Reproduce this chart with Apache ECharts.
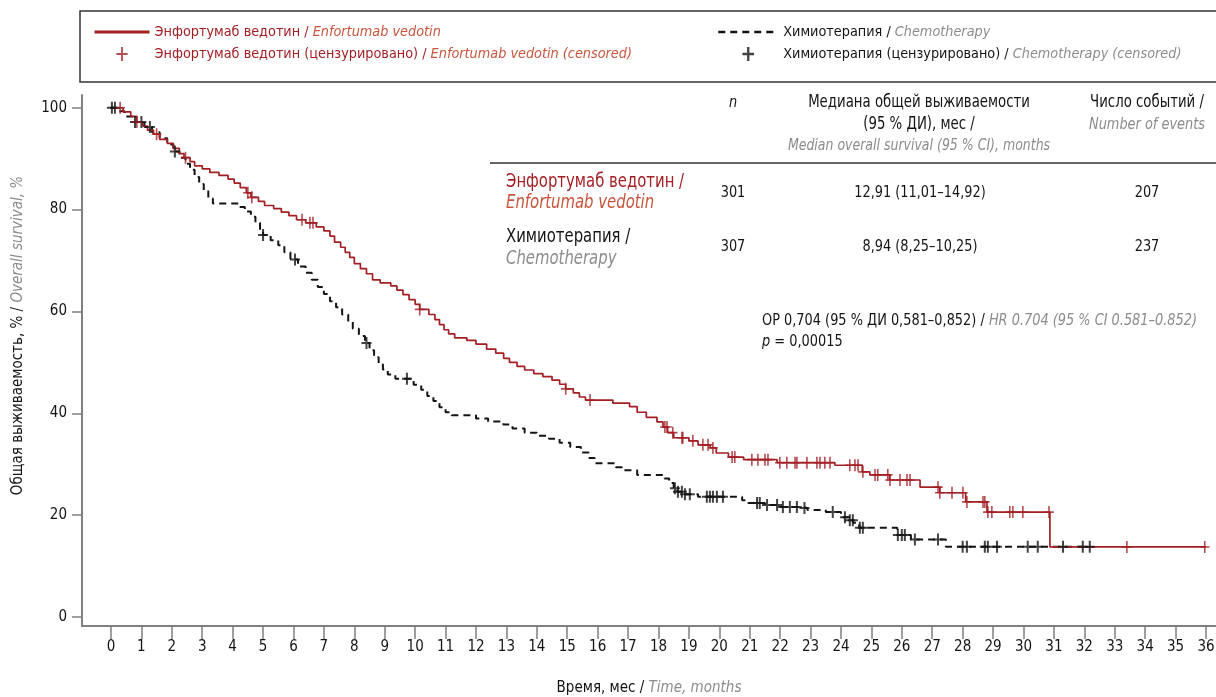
<!DOCTYPE html>
<html>
<head>
<meta charset="utf-8">
<script src="https://cdn.jsdelivr.net/npm/echarts@6/dist/echarts.min.js"></script>
<style>
  html, body { margin: 0; padding: 0; background: #fff; }
  #chart { width: 1216px; height: 697px; }
</style>
</head>
<body>
<div id="chart"></div>
<script>
// Kaplan–Meier overall survival: enfortumab vedotin vs chemotherapy

// Step points [month, survival %] — the value holds until the next time point
const evSteps = [
  [0, 100], [0.4, 99.2], [0.65, 98.3], [0.85, 97.2], [1.05, 96.4], [1.2, 95.6], [1.4, 94.8],
  [1.6, 93.8], [1.85, 93.0], [2.05, 92.0], [2.25, 91.0], [2.4, 90.2], [2.6, 89.4], [2.75, 88.6],
  [3.0, 88.0], [3.25, 87.3], [3.55, 86.7], [3.85, 86.0], [4.05, 85.2], [4.25, 84.3], [4.45, 83.3],
  [4.6, 82.4], [4.85, 81.6], [5.05, 80.8], [5.35, 80.2], [5.6, 79.5], [5.85, 78.8], [6.1, 78.0],
  [6.4, 77.4], [6.75, 76.6], [7.0, 75.8], [7.2, 74.8], [7.35, 73.6], [7.55, 72.6], [7.7, 71.6],
  [7.85, 70.6], [8.0, 69.4], [8.2, 68.4], [8.4, 67.4], [8.6, 66.2], [8.85, 65.6], [9.2, 65.0],
  [9.4, 64.2], [9.6, 63.3], [9.8, 62.3], [10.0, 61.4], [10.15, 60.4], [10.45, 59.4], [10.65, 58.4],
  [10.8, 57.4], [10.95, 56.4], [11.1, 55.6], [11.3, 54.8], [11.7, 54.3], [12.0, 53.6], [12.35, 52.6],
  [12.65, 51.8], [12.91, 50.8], [13.1, 50.0], [13.35, 49.2], [13.6, 48.5], [13.9, 47.8], [14.2, 47.2],
  [14.5, 46.5], [14.75, 45.7], [14.95, 44.8], [15.2, 44.0], [15.4, 43.2], [15.6, 42.6], [16.5, 42.0],
  [17.05, 41.3], [17.3, 40.2], [17.6, 39.2], [17.95, 38.3], [18.15, 37.3], [18.3, 36.2], [18.5, 35.2],
  [19.0, 34.6], [19.3, 33.8], [19.7, 33.2], [19.9, 32.2], [20.3, 31.4], [20.8, 30.9], [21.9, 30.3],
  [23.8, 29.8], [24.7, 28.5], [24.95, 27.9], [25.6, 26.9], [26.6, 25.5], [27.25, 24.4], [28.1, 22.6],
  [28.8, 20.6], [30.87, 13.75], [36.0, 13.75]
];

const chemoSteps = [
  [0, 100], [0.2, 99.3], [0.45, 98.3], [0.7, 97.2], [1.1, 96.2], [1.35, 95.2], [1.6, 94.0],
  [1.85, 92.8], [2.05, 91.4], [2.25, 90.2], [2.45, 89.0], [2.6, 87.8], [2.75, 86.4], [2.9, 85.0],
  [3.05, 83.6], [3.2, 82.2], [3.35, 81.2], [4.2, 80.5], [4.4, 79.6], [4.6, 78.6], [4.75, 77.4],
  [4.9, 76.0], [5.0, 75.0], [5.25, 74.0], [5.5, 73.0], [5.7, 71.6], [5.9, 70.2], [6.15, 68.8],
  [6.4, 67.6], [6.6, 66.2], [6.8, 64.8], [7.0, 63.4], [7.2, 62.0], [7.4, 60.8], [7.6, 59.4],
  [7.8, 58.0], [7.95, 56.6], [8.15, 55.2], [8.35, 53.8], [8.5, 52.4], [8.65, 51.0], [8.8, 49.8],
  [8.94, 48.6], [9.1, 47.6], [9.35, 46.8], [9.95, 45.6], [10.2, 44.6], [10.4, 43.4], [10.6, 42.4],
  [10.8, 41.2], [11.0, 40.2], [11.2, 39.6], [12.0, 39.0], [12.4, 38.4], [12.9, 37.8], [13.2, 37.0],
  [13.6, 36.2], [14.0, 35.6], [14.4, 35.0], [14.75, 34.2], [15.1, 33.4], [15.45, 32.3], [15.7, 31.2],
  [15.9, 30.2], [16.6, 29.4], [16.8, 28.8], [17.3, 27.9], [18.2, 27.2], [18.35, 26.3], [18.5, 25.3],
  [18.62, 24.6], [18.8, 24.1], [19.3, 23.6], [20.75, 22.9], [20.95, 22.4], [21.5, 22.0], [22.0, 21.6],
  [22.6, 21.4], [22.9, 21.0], [23.5, 20.6], [24.0, 19.6], [24.25, 19.0], [24.4, 18.5], [24.6, 17.5],
  [25.85, 16.1], [26.3, 15.2], [27.45, 13.8], [32.2, 13.8]
];

// Censoring times, months
const evCensorTimes = [
  0.3, 0.85, 1.5, 2.45, 4.5, 4.63, 6.28, 6.54, 6.64, 10.15, 14.95, 15.75,
  18.21, 18.28, 18.47, 18.77, 18.8, 19.13, 19.46, 19.63, 19.79, 20.42, 20.51,
  21.07, 21.27, 21.5, 21.6, 21.99, 22.22, 22.49, 22.55, 22.88, 23.21, 23.31, 23.47, 23.64,
  24.29, 24.46, 24.56, 24.72, 25.12, 25.21, 25.54, 25.61, 25.94, 26.17, 26.27,
  27.19, 27.25, 27.65, 28.01, 28.14, 28.67, 28.73, 28.83, 28.96, 29.55, 29.65, 29.98, 30.84,
  33.4, 35.96
];
const chemoCensorTimes = [
  0.03, 0.13, 0.79, 1.0, 1.28, 2.1, 5.0, 6.05, 8.4, 9.73,
  18.54, 18.64, 18.77, 18.87, 19.03, 19.59, 19.69, 19.79, 19.92, 20.12,
  21.24, 21.33, 21.57, 21.9, 22.09, 22.32, 22.55, 22.8, 23.73, 24.13,
  24.29, 24.39, 24.62, 24.72, 25.87, 26.0, 26.1, 26.43, 27.19,
  28.0, 28.14, 28.73, 28.83, 29.13, 30.14, 30.47, 31.3, 31.95, 32.18
];

// Axis ticks
const monthTicks = [0, 1, 2, 3, 4, 5, 6, 7, 8, 9, 10, 11, 12, 13, 14, 15, 16, 17, 18,
  19, 20, 21, 22, 23, 24, 25, 26, 27, 28, 29, 30, 31, 32, 33, 34, 35, 36];
const survivalTicks = [0, 20, 40, 60, 80, 100];

// Series names (Russian / English)
const EV = 'Энфортумаб ведотин / Enfortumab vedotin';
const EV_C = 'Энфортумаб ведотин (цензурировано) / Enfortumab vedotin (censored)';
const CH = 'Химиотерапия / Chemotherapy';
const CH_C = 'Химиотерапия (цензурировано) / Chemotherapy (censored)';

const FONT = "'Liberation Sans Narrow','DejaVu Sans Condensed','Roboto Condensed',Roboto,sans-serif";
const RED = '#a31f24';
const RED_LIGHT = '#c8553d';
const GREY = '#8c8c8c';
const INK = '#141414';
const AXIS = '#808080';
const NARROW = 0.87;   // horizontal squeeze for the condensed look of annotation text

// Survival value of a step curve at time t
function survivalAt(steps, t) {
  let v = steps[0][1];
  for (const [x, y] of steps) { if (x <= t) v = y; else break; }
  return v;
}

const PLUS_THIN = 'path://M4,0H5.6V5.2H9.6V6.8H5.6V12H4V6.8H0V5.2H4Z';
const PLUS_BOLD = 'path://M4,0H6V5H10V7H6V12H4V7H0V5H4Z';

const chart = echarts.init(document.getElementById('chart'), null, { renderer: 'canvas' });

function legendFormatter(name) {
  const parts = name.split(' / ');
  const red = name.indexOf('Энфортумаб') === 0;
  return red
    ? '{r|' + parts[0] + ' / }{ri|' + parts[1] + '}'
    : '{k|' + parts[0] + ' / }{ki|' + parts[1] + '}';
}
const LEG_FS = 14.3;
const legendRich = {
  r: { color: RED, fontSize: LEG_FS, fontFamily: FONT },
  ri: { color: RED_LIGHT, fontSize: LEG_FS, fontStyle: 'italic', fontFamily: FONT },
  k: { color: INK, fontSize: LEG_FS, fontFamily: FONT },
  ki: { color: GREY, fontSize: LEG_FS, fontStyle: 'italic', fontFamily: FONT }
};
const axisNameRich = {
  k: { color: INK, fontSize: 15, fontFamily: FONT },
  ki: { color: GREY, fontSize: 15, fontStyle: 'italic', fontFamily: FONT }
};

// Annotation text, squeezed horizontally around its anchor point
function txt(x, y, text, opts) {
  return {
    type: 'text', x: x, y: y, silent: true,
    scaleX: NARROW, originX: 0, originY: 0,
    style: Object.assign({
      x: 0, y: 0, text: text, fill: INK, fontSize: 16.5, fontFamily: FONT,
      align: 'center', verticalAlign: 'middle'
    }, opts || {})
  };
}

const option = {
  animation: false,
  backgroundColor: '#fff',
  grid: { left: 82, right: 0, top: 95, bottom: 71, containLabel: false, outerBoundsMode: 'none' },
  legend: [
    {
      data: [
        { name: EV, itemStyle: { opacity: 0 }, lineStyle: { width: 3 } },
        { name: EV_C }
      ],
      orient: 'vertical', left: 93, top: 25, padding: 0,
      itemWidth: 55, itemHeight: 14, itemGap: 8,
      formatter: legendFormatter, textStyle: { rich: legendRich }, selectedMode: false
    },
    {
      data: [
        { name: CH, itemStyle: { opacity: 0 }, lineStyle: { width: 2.5, type: [7, 5] } },
        { name: CH_C }
      ],
      orient: 'vertical', left: 717, top: 25, padding: 0,
      itemWidth: 60, itemHeight: 14, itemGap: 8,
      formatter: legendFormatter, textStyle: { rich: legendRich }, selectedMode: false
    }
  ],
  xAxis: {
    type: 'value', min: -0.953, max: 36.33,
    name: '{k|Время, мес / }{ki|Time, months}',
    nameLocation: 'middle', nameGap: 55,
    nameTextStyle: { rich: axisNameRich },
    axisLine: { show: true, onZero: false, lineStyle: { color: AXIS, width: 2 } },
    axisTick: { show: true, customValues: monthTicks, length: 13, lineStyle: { color: AXIS, width: 1.5 } },
    axisLabel: { customValues: monthTicks, margin: 14, fontSize: 15, color: INK, fontFamily: FONT },
    splitLine: { show: false }
  },
  yAxis: {
    type: 'value', min: -1.77, max: 102.5,
    name: '{k|Общая выживаемость, % / }{ki|Overall survival, %}',
    nameLocation: 'middle', nameGap: 56, nameRotate: 90,
    nameTextStyle: { rich: axisNameRich, padding: [0, 0, 0, 50] },
    axisLine: { show: true, onZero: false, lineStyle: { color: AXIS, width: 2 } },
    axisTick: { show: true, customValues: survivalTicks, length: 10, lineStyle: { color: AXIS, width: 1.5 } },
    axisLabel: { customValues: survivalTicks, margin: 15, fontSize: 15, color: INK, fontFamily: FONT },
    splitLine: { show: false }
  },
  series: [
    {
      name: CH, type: 'line', step: 'end', symbol: 'none', z: 2,
      data: chemoSteps,
      lineStyle: { color: INK, width: 2, type: [7, 5] },
      itemStyle: { color: INK }
    },
    {
      name: EV, type: 'line', step: 'end', symbol: 'none', z: 3,
      data: evSteps,
      lineStyle: { color: RED, width: 1.7 },
      itemStyle: { color: RED }
    },
    {
      name: CH_C, type: 'scatter', symbol: PLUS_BOLD, symbolSize: [10, 12], z: 4,
      data: chemoCensorTimes.map(t => [t, survivalAt(chemoSteps, t)]),
      itemStyle: { color: INK }
    },
    {
      name: EV_C, type: 'scatter', symbol: PLUS_THIN, symbolSize: [9.6, 12], z: 5,
      data: evCensorTimes.map(t => [t, survivalAt(evSteps, t)]),
      itemStyle: { color: RED }
    }
  ],
  graphic: [
    // legend frame
    { type: 'rect', silent: true, shape: { x: 80, y: 11, width: 1300, height: 71 },
      style: { fill: 'none', stroke: '#333', lineWidth: 1.5 } },
    // summary table header
    txt(733, 103, 'n', { fontStyle: 'italic' }),
    txt(919, 103, 'Медиана общей выживаемости', { fontSize: 17 }),
    txt(919, 125, '(95 % ДИ), мес /', { fontSize: 17 }),
    txt(919, 146, 'Median overall survival (95 % CI), months', { fill: GREY, fontStyle: 'italic', fontSize: 16 }),
    txt(1147, 103, 'Число событий /', { fontSize: 17 }),
    txt(1147, 125, 'Number of events', { fill: GREY, fontStyle: 'italic', fontSize: 16.5 }),
    { type: 'line', silent: true, shape: { x1: 490, y1: 163, x2: 1216, y2: 163 },
      style: { stroke: '#333', lineWidth: 1.5 } },
    // row: enfortumab vedotin
    txt(506, 182, 'Энфортумаб ведотин /', { fill: RED, fontSize: 19, align: 'left' }),
    txt(506, 203, 'Enfortumab vedotin', { fill: RED_LIGHT, fontSize: 19, align: 'left', fontStyle: 'italic' }),
    txt(733, 193, '301'),
    txt(920, 193, '12,91 (11,01–14,92)'),
    txt(1147, 193, '207'),
    // row: chemotherapy
    txt(506, 237, 'Химиотерапия /', { fontSize: 19, align: 'left' }),
    txt(506, 259, 'Chemotherapy', { fill: GREY, fontSize: 19, align: 'left', fontStyle: 'italic' }),
    txt(733, 247, '307'),
    txt(920, 247, '8,94 (8,25–10,25)'),
    txt(1147, 247, '237'),
    // hazard ratio
    txt(762, 321, '{k|ОР 0,704 (95 % ДИ 0,581–0,852) / }{ki|HR 0.704 (95 % CI 0.581–0.852)}', {
      align: 'left', rich: {
        k: { fill: INK, fontSize: 16.5, fontFamily: FONT },
        ki: { fill: GREY, fontSize: 16.5, fontStyle: 'italic', fontFamily: FONT }
      }
    }),
    txt(762, 342, '{pi|p}{k| = 0,00015}', {
      align: 'left', rich: {
        pi: { fill: INK, fontSize: 16.5, fontStyle: 'italic', fontFamily: FONT },
        k: { fill: INK, fontSize: 16.5, fontFamily: FONT }
      }
    })
  ]
};

chart.setOption(option);
</script>
</body>
</html>
